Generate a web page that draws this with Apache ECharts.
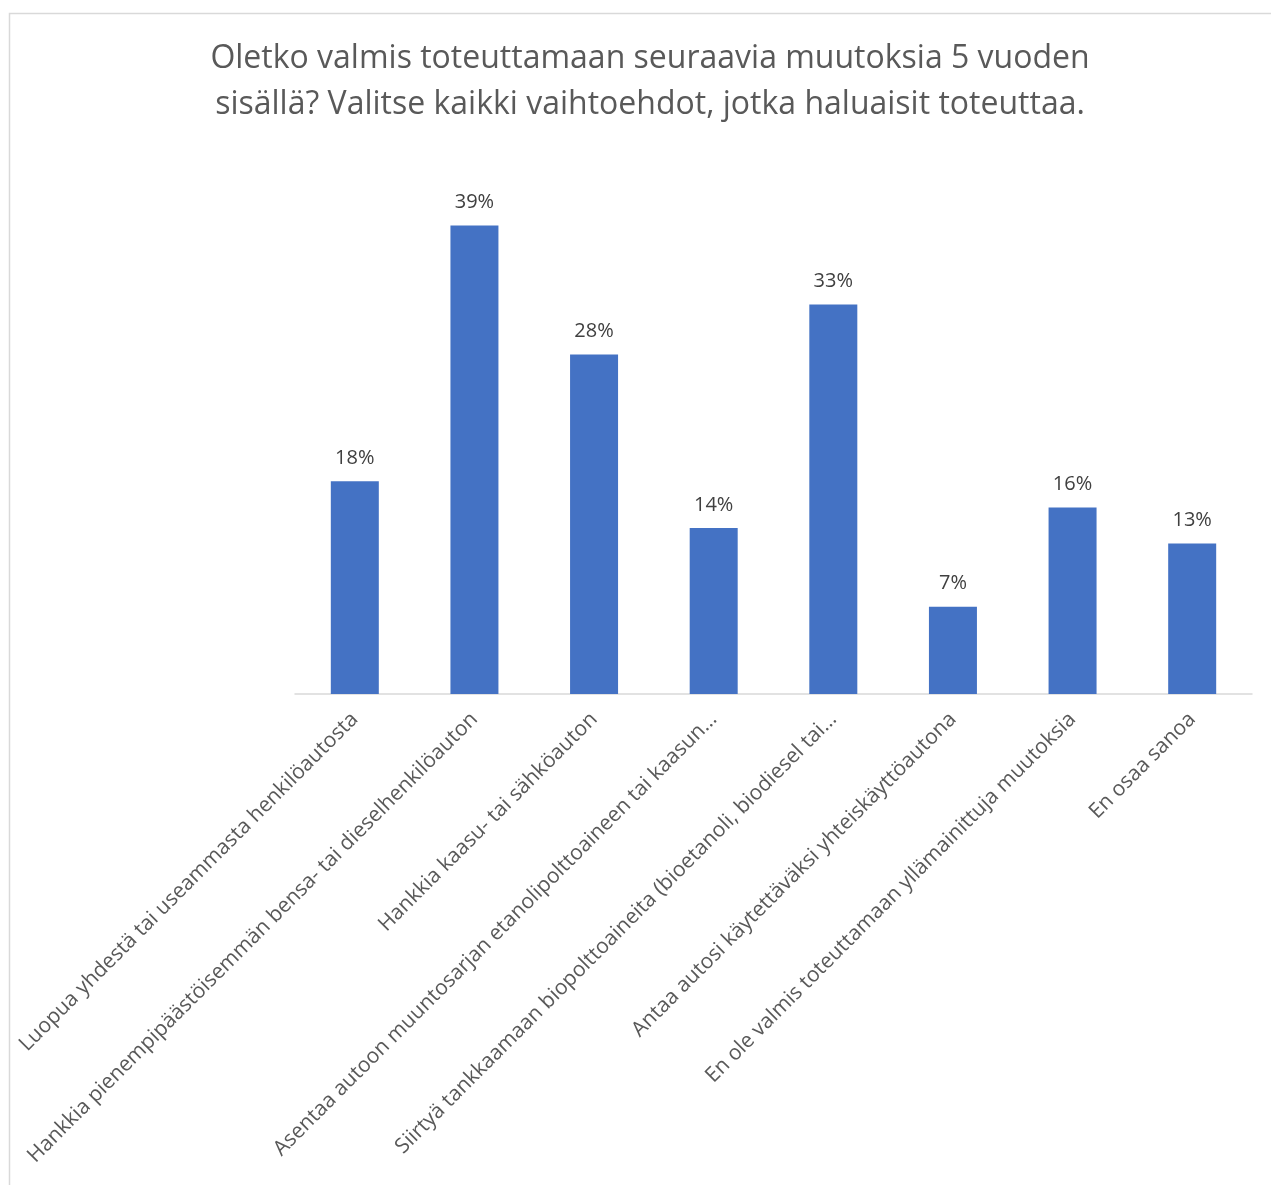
<!DOCTYPE html>
<html>
<head>
<meta charset="utf-8">
<style>
  html, body { margin: 0; padding: 0; background: #ffffff; }
  #chart { width: 1271px; height: 1185px; }
</style>
<script src="https://cdn.jsdelivr.net/npm/echarts@6/dist/echarts.min.js"></script>
</head>
<body>
<div id="chart"></div>
<script>
// Survey answers (share of respondents, %)
const categories = [
  'Luopua yhdestä tai useammasta henkilöautosta',
  'Hankkia pienempipäästöisemmän bensa- tai dieselhenkilöauton',
  'Hankkia kaasu- tai sähköauton',
  'Asentaa autoon muuntosarjan etanolipolttoaineen tai kaasun…',
  'Siirtyä tankkaamaan biopolttoaineita (bioetanoli, biodiesel tai…',
  'Antaa autosi käytettäväksi yhteiskäyttöautona',
  'En ole valmis toteuttamaan yllämainittuja muutoksia',
  'En osaa sanoa'
];
const shares = [17.8, 39.2, 28.4, 13.9, 32.6, 7.3, 15.6, 12.6];

const titleText = 'Oletko valmis toteuttamaan seuraavia muutoksia 5 vuoden\nsisällä? Valitse kaikki vaihtoehdot, jotka haluaisit toteuttaa.';

const chart = echarts.init(document.getElementById('chart'), null, { renderer: 'canvas' });

chart.setOption({
  backgroundColor: '#ffffff',
  animation: false,
  textStyle: { fontFamily: 'Open Sans' },
  title: {
    text: titleText,
    left: 645,
    top: 31,
    textAlign: 'center',
    textStyle: {
      fontFamily: 'Open Sans',
      fontSize: 32,
      fontWeight: 'normal',
      color: '#595959',
      lineHeight: 46
    }
  },
  graphic: [{
    type: 'rect',
    shape: { x: 9.5, y: 13.5, width: 1300, height: 1300 },
    style: { fill: 'none', stroke: '#d9d9d9', lineWidth: 1.5 },
    silent: true,
    z: -1
  }],
  grid: {
    left: 295,
    right: 19,
    top: 216,
    bottom: 491,
    containLabel: false
  },
  xAxis: {
    type: 'category',
    data: categories,
    axisLine: { show: true, lineStyle: { color: '#d9d9d9', width: 1.5 } },
    axisTick: { show: false },
    axisLabel: {
      rotate: 45,
      interval: 0,
      margin: 22,
      fontFamily: 'Open Sans',
      fontSize: 21,
      color: '#595959'
    }
  },
  yAxis: {
    type: 'value',
    min: 0,
    max: 40,
    show: false,
    splitLine: { show: false }
  },
  series: [{
    type: 'bar',
    data: shares,
    barWidth: 48,
    itemStyle: { color: '#4472c4' },
    label: {
      show: true,
      position: 'top',
      distance: 13,
      fontFamily: 'Open Sans',
      fontSize: 20,
      color: '#404040',
      formatter: p => Math.round(p.value) + '%'
    }
  }]
});
</script>
</body>
</html>
